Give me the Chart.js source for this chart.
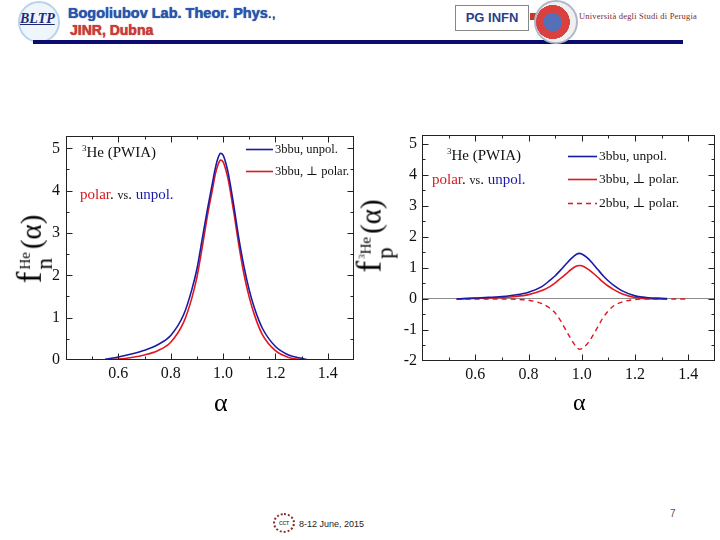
<!DOCTYPE html>
<html>
<head>
<meta charset="utf-8">
<script src="https://cdn.jsdelivr.net/npm/chart.js@4.4.0/dist/chart.umd.min.js"></script>
<style>
  html, body { margin: 0; padding: 0; background: #fff; }
  #page { position: relative; width: 720px; height: 540px; overflow: hidden; font-family: "Liberation Serif", "DejaVu Serif", serif; }
  .abs { position: absolute; white-space: nowrap; }
  .plot { position: absolute; width: 360px; height: 300px; top: 120px; }
  .ytitle { position: absolute; transform: translate(-50%, -50%) rotate(-90deg); white-space: nowrap; color: #000; }
  .ytitle .f { font-size: 35px; }
  .ytitle .stack { display: inline-block; vertical-align: middle; line-height: 1; text-align: left; margin-left: 2px; margin-right: 3px; }
  .ytitle .stack .up { display: block; font-size: 15px; margin-bottom: 0px; }
  .ytitle .stack .dn { display: block; font-size: 23px; }
  .ytitle .arg { font-size: 29px; }
  .note { font-size: 15px; color: #111; }
  .red { color: #d8161c; }
  .blue { color: #1a1aa6; }
  .hdr { font-family: "Liberation Sans", Arial, sans-serif; font-weight: bold; }
</style>
</head>
<body>
<div id="page">
  <!-- header -->
  <div class="abs" style="left:18px;top:1px;width:38px;height:38px;border-radius:50%;border:2px solid #b9d3ea;background:#eef5fb;"></div>
  <div class="abs" style="left:20px;top:11px;font:italic bold 14px 'Liberation Serif',serif;color:#1d2a7a;text-decoration:underline;">BLTP</div>
  <div class="abs hdr" style="left:68px;top:5px;font-size:14.5px;color:#2a56b0;text-shadow:0 0 1px #0b2f80;">Bogoliubov Lab. Theor. Phys<span style="color:#333;font-weight:normal;">.,</span></div>
  <div class="abs hdr" style="left:70px;top:22px;font-size:14px;color:#d23a3a;text-shadow:0 0 1px #8a1010;">JINR, Dubna</div>
  <div class="abs" style="left:33px;top:40px;width:650px;height:4px;background:#0c0c70;"></div>
  <div class="abs hdr" style="left:455px;top:5px;width:72px;height:24px;border:1px solid #888;text-align:center;line-height:24px;font-size:13px;color:#2a3f8a;">PG INFN</div>
  <div class="abs" style="left:530px;top:13px;width:10px;height:7px;background:#c0392b;"></div>
  <div class="abs" style="left:534px;top:0px;width:40px;height:40px;border-radius:50%;border:2px solid #b0b8c8;background:radial-gradient(circle at 42% 50%, #5570b8 0 30%, #d94040 31% 55%, #f0f0f0 56%);"></div>
  <div class="abs" style="left:579px;top:11px;font-size:8.5px;color:#7a2a2a;letter-spacing:0.2px;">Università degli Studi di Perugia</div>

  <!-- left chart -->
  <div class="plot" style="left:0px;"><canvas id="cn"></canvas></div>
  <div class="ytitle" style="left:33px;top:249px;"><span class="f">f</span><span class="stack"><span class="up">He</span><span class="dn">n</span></span><span class="arg">(α)</span></div>
  <div class="abs" style="left:214px;top:388px;font-size:26px;">α</div>
  <div class="abs note" style="left:82px;top:143px;"><sup style="font-size:9px;">3</sup>He (PWIA)</div>
  <div class="abs note" style="left:80px;top:186px;font-size:15px;"><span class="red">polar</span>. <span style="font-size:12px;">vs</span>. <span class="blue">unpol.</span></div>

  <!-- right chart -->
  <div class="plot" style="left:360px;"><canvas id="cp"></canvas></div>
  <div class="ytitle" style="left:373px;top:236px;"><span class="f">f</span><span class="stack"><span class="up"><sup style="font-size:9px;">3</sup>He</span><span class="dn">p</span></span><span class="arg">(α)</span></div>
  <div class="abs" style="left:573px;top:389px;font-size:24px;">α</div>
  <div class="abs note" style="left:447px;top:146px;"><sup style="font-size:9px;">3</sup>He (PWIA)</div>
  <div class="abs note" style="left:432px;top:171px;font-size:15px;"><span class="red">polar</span>. <span style="font-size:12px;">vs</span>. <span class="blue">unpol.</span></div>

  <!-- footer -->
  <div class="abs" style="left:273px;top:513px;width:18px;height:16px;border-radius:50%;border:2px dotted #8a2a2a;font:bold 5px Arial,sans-serif;color:#555;text-align:center;line-height:16px;">ССТ</div>
  <div class="abs" style="left:299px;top:519px;font:9px 'Liberation Sans',Arial,sans-serif;color:#222;">8-12 June, 2015</div>
  <div class="abs" style="left:670px;top:508px;font:10px 'Liberation Sans',Arial,sans-serif;color:#555;">7</div>
</div>

<script>
// alpha grid (light-cone variable) for the neutron curves
const alphaN = [0.55, 0.6, 0.65, 0.7, 0.75, 0.8, 0.85, 0.88, 0.9, 0.92, 0.94, 0.96, 0.97, 0.98, 0.99, 1.0, 1.01, 1.02, 1.04, 1.06, 1.08, 1.1, 1.12, 1.15, 1.2, 1.25, 1.3, 1.32];
// neutron, 3bbu unpolarized / perpendicular polarized
const nUnpol = [0.02, 0.07, 0.14, 0.23, 0.36, 0.58, 1.08, 1.65, 2.15, 2.85, 3.55, 4.2, 4.52, 4.76, 4.88, 4.84, 4.66, 4.4, 3.68, 2.88, 2.2, 1.65, 1.22, 0.75, 0.32, 0.12, 0.04, 0.01];
const nPolar = [0.0, 0.02, 0.06, 0.12, 0.22, 0.42, 0.9, 1.45, 1.95, 2.65, 3.4, 4.05, 4.38, 4.6, 4.72, 4.68, 4.5, 4.25, 3.52, 2.72, 2.02, 1.48, 1.06, 0.6, 0.22, 0.06, 0.01, 0.0];

const alphaP = [0.53, 0.6, 0.65, 0.7, 0.75, 0.8, 0.85, 0.88, 0.9, 0.92, 0.94, 0.96, 0.98, 0.99, 1.0, 1.02, 1.04, 1.06, 1.08, 1.1, 1.12, 1.15, 1.2, 1.25, 1.3, 1.32, 1.36, 1.4];
// proton curves (null = curve not drawn there)
const pUnpol = [0.0, 0.03, 0.05, 0.08, 0.13, 0.22, 0.4, 0.6, 0.75, 0.93, 1.12, 1.3, 1.44, 1.47, 1.45, 1.33, 1.15, 0.95, 0.75, 0.58, 0.44, 0.27, 0.1, 0.04, 0.02, 0.01, null, null];
const pPolar = [0.0, 0.02, 0.03, 0.05, 0.08, 0.14, 0.27, 0.4, 0.52, 0.66, 0.8, 0.95, 1.06, 1.08, 1.07, 0.98, 0.85, 0.7, 0.54, 0.41, 0.3, 0.17, 0.05, 0.01, 0.0, 0.0, null, null];
const p2bbu = [0.0, 0.0, 0.0, 0.0, -0.01, -0.04, -0.15, -0.3, -0.45, -0.7, -1.0, -1.3, -1.55, -1.62, -1.6, -1.45, -1.2, -0.9, -0.6, -0.38, -0.22, -0.1, -0.02, 0.0, 0.0, 0.0, 0.0, 0.0];

const xTicks = [0.6, 0.8, 1.0, 1.2, 1.4];
const xMinor = [0.4, 0.5, 0.7, 0.9, 1.1, 1.3, 1.5];
const yTicksN = [0, 1, 2, 3, 4, 5];
const yMinorN = [0.5, 1.5, 2.5, 3.5, 4.5];
const yTicksP = [-2, -1, 0, 1, 2, 3, 4, 5];
const yMinorP = [-1.5, -0.5, 0.5, 1.5, 2.5, 3.5, 4.5];

const BLUE = '#1a1aa6';
const RED = '#e0181e';
const tickFont = { family: "'Liberation Serif', serif", size: 16 };

function pts(xs, ys) {
  const out = [];
  xs.forEach((x, i) => { if (ys[i] !== null && ys[i] !== undefined) out.push({ x: x, y: ys[i] }); });
  return out;
}

// box frame with inward major/minor ticks on all four sides
const frameTicks = {
  id: 'frameTicks',
  afterDraw(chart, args, o) {
    const { ctx, chartArea: a, scales } = chart;
    const L = Math.round(a.left) + 0.5, R = Math.round(a.right) - 0.5;
    const T = Math.round(a.top) + 0.5, B = Math.round(a.bottom) - 0.5;
    ctx.save();
    ctx.strokeStyle = '#222';
    ctx.lineWidth = 1;
    ctx.strokeRect(L, T, R - L, B - T);
    const vx = (vals, len) => vals.forEach(v => {
      const p = Math.round(scales.x.getPixelForValue(v)) + 0.5;
      if (p < L || p > R) return;
      ctx.beginPath(); ctx.moveTo(p, B); ctx.lineTo(p, B - len); ctx.moveTo(p, T); ctx.lineTo(p, T + len); ctx.stroke();
    });
    const vy = (vals, len) => vals.forEach(v => {
      const p = Math.round(scales.y.getPixelForValue(v)) + 0.5;
      if (p < T || p > B) return;
      ctx.beginPath(); ctx.moveTo(L, p); ctx.lineTo(L + len, p); ctx.moveTo(R, p); ctx.lineTo(R - len, p); ctx.stroke();
    });
    vx(o.xMajor, 6); vx(o.xMinor, 3);
    vy(o.yMajor, 6); vy(o.yMinor, 3);
    ctx.restore();
  }
};

// in-plot key: line sample then label, one row per dataset
const lineKey = {
  id: 'lineKey',
  afterDatasetsDraw(chart, args, o) {
    const { ctx, chartArea: a } = chart;
    ctx.save();
    ctx.font = o.font;
    ctx.textBaseline = 'middle';
    chart.data.datasets.forEach((ds, i) => {
      const y = Math.round(a.top + o.y + i * o.dy) + 0.5;
      const x0 = a.left + o.x;
      ctx.strokeStyle = ds.borderColor;
      ctx.lineWidth = ds.borderWidth;
      ctx.setLineDash(ds.borderDash || []);
      ctx.beginPath(); ctx.moveTo(x0, y); ctx.lineTo(x0 + o.len, y); ctx.stroke();
      ctx.setLineDash([]);
      ctx.fillStyle = '#111';
      ctx.fillText(ds.label, x0 + o.len + 2, y);
    });
    ctx.restore();
  }
};

function makeChart(id, datasets, cfg) {
  return new Chart(document.getElementById(id), {
    type: 'line',
    data: { datasets: datasets },
    plugins: [frameTicks, lineKey],
    options: {
      responsive: true,
      maintainAspectRatio: false,
      animation: false,
      layout: { padding: cfg.padding },
      elements: { point: { radius: 0 }, line: { cubicInterpolationMode: 'monotone', borderWidth: 1.6 } },
      scales: {
        x: {
          type: 'linear', min: 0.4, max: 1.5,
          afterBuildTicks: s => { s.ticks = xTicks.map(v => ({ value: v })); },
          afterFit: s => { s.height = 40; },
          ticks: { font: tickFont, color: '#111', padding: 4, maxRotation: 0, callback: v => v.toFixed(1) },
          grid: { display: false, drawTicks: false },
          border: { display: false }
        },
        y: {
          min: cfg.ymin, max: cfg.ymax,
          afterBuildTicks: s => { s.ticks = cfg.yTicks.map(v => ({ value: v })); },
          afterFit: s => { s.width = cfg.yWidth; },
          ticks: { font: tickFont, color: '#111', padding: cfg.yPad, callback: v => String(v) },
          grid: {
            display: cfg.zeroLine, drawTicks: false,
            color: c => (c.tick && c.tick.value === 0) ? '#8c8c8c' : 'rgba(0,0,0,0)'
          },
          border: { display: false }
        }
      },
      plugins: {
        legend: { display: false },
        tooltip: { enabled: false },
        frameTicks: { xMajor: xTicks, xMinor: xMinor, yMajor: cfg.yTicks, yMinor: cfg.yMinor },
        lineKey: cfg.key
      }
    }
  });
}

makeChart('cn', [
  { label: '3bbu, unpol.', data: pts(alphaN, nUnpol), borderColor: BLUE, borderWidth: 1.6 },
  { label: '3bbu, \u22A5 polar.', data: pts(alphaN, nPolar), borderColor: RED, borderWidth: 1.6 }
], {
  padding: { top: 13, right: 6, bottom: 20, left: 0 },
  ymin: 0, ymax: 5.3, yTicks: yTicksN, yMinor: yMinorN, yWidth: 66, yPad: 6, zeroLine: false,
  key: { x: 180, y: 13, dy: 22, len: 27, font: "12.5px 'Liberation Serif', 'DejaVu Serif', serif" }
});

makeChart('cp', [
  { label: '3bbu, unpol.', data: pts(alphaP, pUnpol), borderColor: BLUE, borderWidth: 1.6 },
  { label: '3bbu, \u22A5 polar.', data: pts(alphaP, pPolar), borderColor: RED, borderWidth: 1.6 },
  { label: '2bbu, \u22A5 polar.', data: pts(alphaP, p2bbu), borderColor: RED, borderWidth: 1.4, borderDash: [5, 4] }
], {
  padding: { top: 12, right: 5, bottom: 19, left: 0 },
  ymin: -2, ymax: 5.3, yTicks: yTicksP, yMinor: yMinorP, yWidth: 62, yPad: 5, zeroLine: true,
  key: { x: 146, y: 21, dy: 23.5, len: 29, font: "13.5px 'Liberation Serif', 'DejaVu Serif', serif" }
});
</script>
</body>
</html>
